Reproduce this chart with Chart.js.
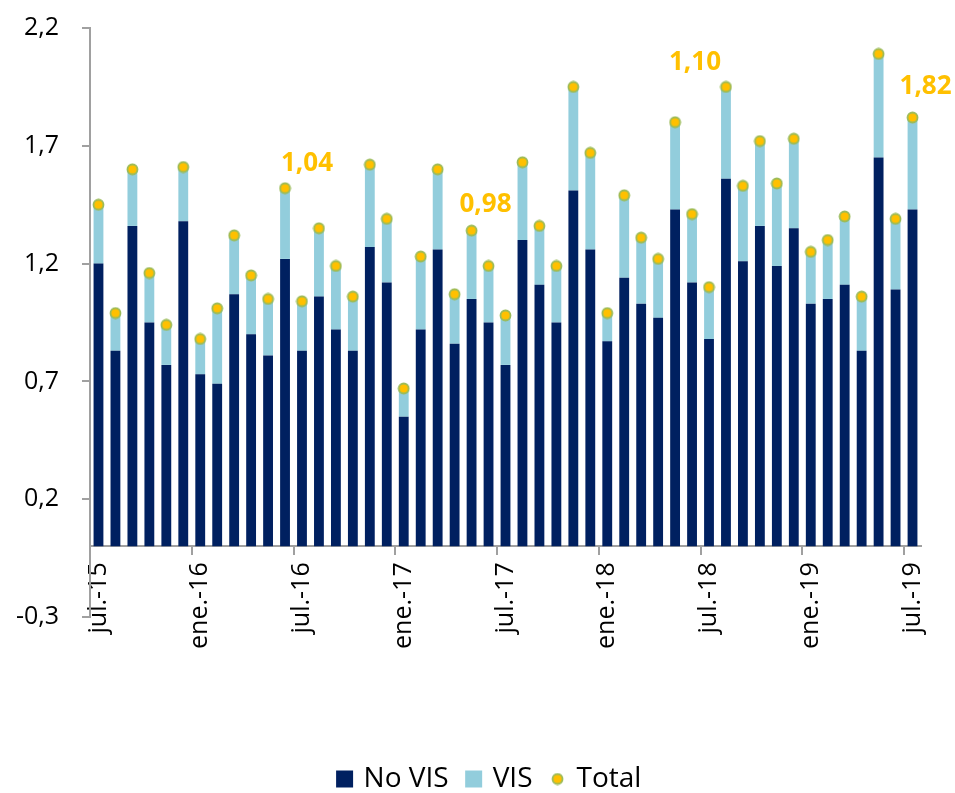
<!DOCTYPE html>
<html lang="es">
<head>
<meta charset="utf-8">
<title>No VIS / VIS / Total</title>
<script src="https://cdn.jsdelivr.net/npm/chart.js@4.4.1/dist/chart.umd.min.js"></script>
<style>
  html, body { margin: 0; padding: 0; background: #fff; }
  #wrap { width: 955px; height: 793px; position: relative; }
</style>
</head>
<body>
<div id="wrap"><canvas id="grafico"></canvas></div>
<script>
const meses = [
  'jul.-15', 'ago.-15', 'sep.-15', 'oct.-15', 'nov.-15', 'dic.-15',
  'ene.-16', 'feb.-16', 'mar.-16', 'abr.-16', 'may.-16', 'jun.-16',
  'jul.-16', 'ago.-16', 'sep.-16', 'oct.-16', 'nov.-16', 'dic.-16',
  'ene.-17', 'feb.-17', 'mar.-17', 'abr.-17', 'may.-17', 'jun.-17',
  'jul.-17', 'ago.-17', 'sep.-17', 'oct.-17', 'nov.-17', 'dic.-17',
  'ene.-18', 'feb.-18', 'mar.-18', 'abr.-18', 'may.-18', 'jun.-18',
  'jul.-18', 'ago.-18', 'sep.-18', 'oct.-18', 'nov.-18', 'dic.-18',
  'ene.-19', 'feb.-19', 'mar.-19', 'abr.-19', 'may.-19', 'jun.-19',
  'jul.-19'
];

const noVis = [
  1.20, 0.83, 1.36, 0.95, 0.77, 1.38,
  0.73, 0.69, 1.07, 0.90, 0.81, 1.22,
  0.83, 1.06, 0.92, 0.83, 1.27, 1.12,
  0.55, 0.92, 1.26, 0.86, 1.05, 0.95,
  0.77, 1.30, 1.11, 0.95, 1.51, 1.26,
  0.87, 1.14, 1.03, 0.97, 1.43, 1.12,
  0.88, 1.56, 1.21, 1.36, 1.19, 1.35,
  1.03, 1.05, 1.11, 0.83, 1.65, 1.09,
  1.43
];

const vis = [
  0.25, 0.16, 0.24, 0.21, 0.17, 0.23,
  0.15, 0.32, 0.25, 0.25, 0.24, 0.30,
  0.21, 0.29, 0.27, 0.23, 0.35, 0.27,
  0.12, 0.31, 0.34, 0.21, 0.29, 0.24,
  0.21, 0.33, 0.25, 0.24, 0.44, 0.41,
  0.12, 0.35, 0.28, 0.25, 0.37, 0.29,
  0.22, 0.39, 0.32, 0.36, 0.35, 0.38,
  0.22, 0.25, 0.29, 0.23, 0.44, 0.30,
  0.39
];

const total = [
  1.45, 0.99, 1.60, 1.16, 0.94, 1.61,
  0.88, 1.01, 1.32, 1.15, 1.05, 1.52,
  1.04, 1.35, 1.19, 1.06, 1.62, 1.39,
  0.67, 1.23, 1.60, 1.07, 1.34, 1.19,
  0.98, 1.63, 1.36, 1.19, 1.95, 1.67,
  0.99, 1.49, 1.31, 1.22, 1.80, 1.41,
  1.10, 1.95, 1.53, 1.72, 1.54, 1.73,
  1.25, 1.30, 1.40, 1.06, 2.09, 1.39,
  1.82
];

const yTicks = [-0.3, 0.2, 0.7, 1.2, 1.7, 2.2];

// meses de julio con etiqueta; el texto se movio a mano en el original
// [indice, dx, dy] en pixeles respecto al punto
const etiquetasJulio = [
  [12, 5, -138],
  [24, -20, -111],
  [36, -14, -225],
  [48, 13, -31]
];

const AZUL = '#002060';
const CELESTE = '#92CDDC';
const AMARILLO = '#FFC000';
const GRIS = '#A0A0A0';

// punto amarillo con borde verde (se usa en el grafico y en la leyenda)
const punto = document.createElement('canvas');
punto.width = 13;
punto.height = 13;
(function () {
  const c = punto.getContext('2d');
  c.beginPath();
  c.arc(6.5, 6.5, 5, 0, Math.PI * 2);
  c.fillStyle = AMARILLO;
  c.fill();
  c.lineWidth = 1.8;
  c.strokeStyle = '#9BBB59';
  c.stroke();
})();

const pluginEtiquetas = {
  id: 'etiquetasJulio',
  afterDatasetsDraw(chart) {
    const { ctx, scales: { x, y } } = chart;
    ctx.save();
    ctx.font = 'bold 26px "Open Sans", sans-serif';
    ctx.fillStyle = AMARILLO;
    ctx.textAlign = 'center';
    ctx.textBaseline = 'middle';
    etiquetasJulio.forEach(([i, dx, dy]) => {
      const txt = total[i].toFixed(2).replace('.', ',');
      ctx.fillText(txt, x.getPixelForValue(i) + dx, y.getPixelForValue(total[i]) + dy);
    });
    ctx.restore();
  }
};

// la leyenda del original esta algo corrida a la derecha
const pluginLeyenda = {
  id: 'moverLeyenda',
  afterLayout(chart) {
    chart.legend.left += 30;
    chart.legend.right += 30;
  }
};

Chart.defaults.font.family = '"Open Sans", sans-serif';
Chart.defaults.color = '#000';

const ctx = document.getElementById('grafico').getContext('2d');
new Chart(ctx, {
  type: 'bar',
  data: {
    labels: meses,
    datasets: [
      {
        label: 'No VIS',
        data: noVis,
        backgroundColor: AZUL,
        stack: 'barras',
        barPercentage: 0.58,
        categoryPercentage: 1.0,
        order: 1
      },
      {
        label: 'VIS',
        data: vis,
        backgroundColor: CELESTE,
        stack: 'barras',
        barPercentage: 0.58,
        categoryPercentage: 1.0,
        order: 1
      },
      {
        type: 'line',
        label: 'Total',
        data: total,
        showLine: false,
        pointStyle: punto,
        pointRadius: 6,
        backgroundColor: AMARILLO,
        borderColor: '#9BBB59',
        stack: 'total',
        order: 0
      }
    ]
  },
  options: {
    responsive: true,
    maintainAspectRatio: false,
    animation: false,
    layout: { padding: { top: 28, right: 34, bottom: -10, left: 0 } },
    scales: {
      x: {
        stacked: true,
        position: { y: 0 },
        offset: true,
        border: { display: true, color: GRIS, width: 2 },
        grid: {
          offset: true,
          drawOnChartArea: false,
          tickLength: 8,
          lineWidth: 2,
          color: (c) => (c.index % 6 === 0 ? GRIS : 'rgba(0,0,0,0)')
        },
        ticks: {
          autoSkip: false,
          minRotation: 90,
          maxRotation: 90,
          padding: 8,
          font: { size: 25 },
          callback: (v, i) => (i % 6 === 0 ? meses[i] : '')
        }
      },
      y: {
        stacked: true,
        min: -0.3,
        max: 2.2,
        afterFit: (s) => {
          s.width = 90;
          s.paddingTop = 0;
          s.paddingBottom = 0;
        },
        afterBuildTicks: (s) => { s.ticks = yTicks.map((v) => ({ value: v })); },
        border: { display: true, color: GRIS, width: 2 },
        grid: {
          drawOnChartArea: false,
          tickLength: 8,
          lineWidth: 2,
          color: GRIS
        },
        ticks: {
          padding: 23,
          font: { size: 25 },
          callback: (v) => v.toFixed(1).replace('.', ',')
        }
      }
    },
    plugins: {
      tooltip: { enabled: false },
      legend: {
        position: 'bottom',
        title: {
          display: true,
          text: ' ',
          font: { size: 10, lineHeight: 1 },
          padding: { top: 118, bottom: 0 }
        },
        labels: {
          usePointStyle: true,
          boxWidth: 10,
          boxHeight: 17,
          padding: 20,
          font: { size: 28 },
          color: '#000',
          sort: (a, b) => a.datasetIndex - b.datasetIndex,
          generateLabels: (chart) => {
            const items = Chart.defaults.plugins.legend.labels.generateLabels(chart);
            items.forEach((it) => {
              it.pointStyle = it.datasetIndex < 2 ? 'rect' : punto;
              it.lineWidth = 0;
            });
            return items;
          }
        }
      }
    }
  },
  plugins: [pluginEtiquetas, pluginLeyenda]
});
</script>
</body>
</html>
